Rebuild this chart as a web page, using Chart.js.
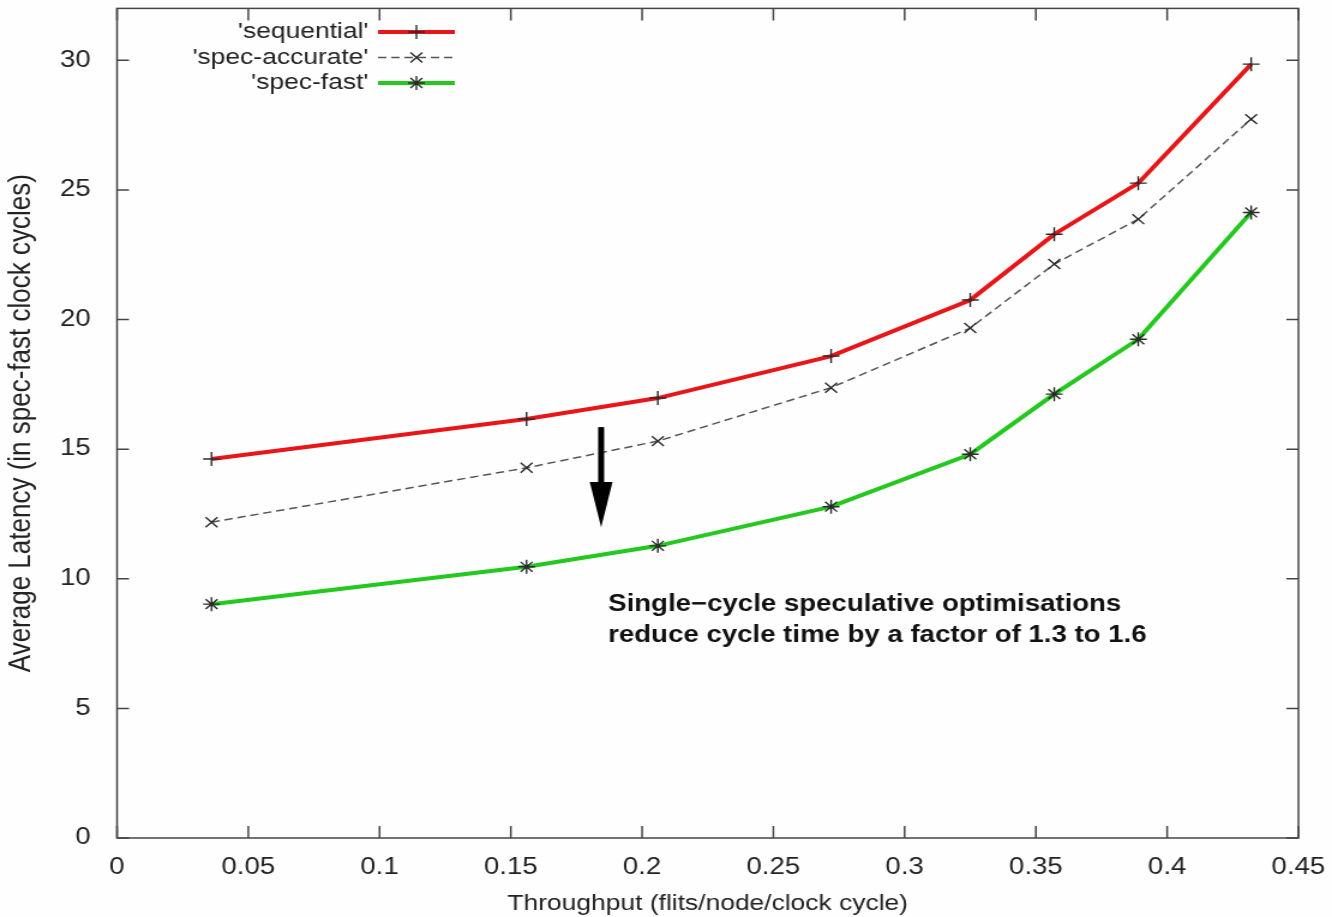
<!DOCTYPE html>
<html>
<head>
<meta charset="utf-8">
<script src="https://cdn.jsdelivr.net/npm/chart.js@4.4.0/dist/chart.umd.min.js"></script>
<style>
  html, body { margin: 0; padding: 0; background: #fdfefd; overflow: hidden; }
  /* the original plot is stretched sideways, so the canvas is drawn narrow and widened */
  #wrap { width: 1110px; height: 917px; transform: scaleX(1.2); transform-origin: 0 0; }
</style>
</head>
<body>
<div id="wrap"><canvas id="latencyChart" width="1110" height="917"></canvas></div>
<script>
// values
const throughput = [0.036, 0.156, 0.206, 0.272, 0.325, 0.357, 0.389, 0.432];
const sequential = [14.62, 16.16, 16.97, 18.59, 20.75, 23.29, 25.26, 29.85];
const specAccurate = [12.18, 14.28, 15.31, 17.37, 19.67, 22.14, 23.87, 27.73];
const specFast = [9.02, 10.46, 11.27, 12.78, 14.80, 17.12, 19.24, 24.13];

const seriesNames = ["'sequential'", "'spec-accurate'", "'spec-fast'"];
const xTicks = [0, 0.05, 0.1, 0.15, 0.2, 0.25, 0.3, 0.35, 0.4, 0.45];
const yTicks = [0, 5, 10, 15, 20, 25, 30];

const xTitle = 'Throughput (flits/node/clock cycle)';
const yTitle = 'Average Latency (in spec-fast clock cycles)';
const noteLines = ['Single\u2212cycle speculative optimisations', 'reduce cycle time by a factor of 1.3 to 1.6'];

// annotation anchors in data units
const arrowX = 0.1844, arrowTop = 15.85, arrowHead = 13.73, arrowTip = 11.99;
const noteX = 0.1871, noteY = [8.99, 7.79];

const FONT = "'Liberation Sans', Arial, Helvetica, sans-serif";
const INK = '#222';
const FRAME = '#444';

const toPoints = (ys) => throughput.map((x, i) => ({ x: x, y: ys[i] }));

// no extra room for half labels, the frame sits where the original has it
const noEdgePadding = (scale) => {
    scale.paddingTop = 0;
    scale.paddingBottom = 0;
    scale.paddingLeft = 0;
    scale.paddingRight = 0;
};

// gnuplot style frame, mirrored inward ticks, legend, arrow and note
const gnuplotDecor = {
    id: 'gnuplotDecor',
    afterDatasetsDraw(chart) {
        const ctx = chart.ctx;
        const area = chart.chartArea;
        const xs = chart.scales.x;
        const ys = chart.scales.y;
        ctx.save();

        // frame
        ctx.strokeStyle = FRAME;
        ctx.lineWidth = 1.5;
        ctx.strokeRect(area.left, area.top, area.right - area.left, area.bottom - area.top);

        // inward ticks on all four sides
        ctx.beginPath();
        xTicks.forEach(v => {
            const px = xs.getPixelForValue(v);
            ctx.moveTo(px, area.bottom); ctx.lineTo(px, area.bottom - 12);
            ctx.moveTo(px, area.top); ctx.lineTo(px, area.top + 12);
        });
        yTicks.forEach(v => {
            const py = ys.getPixelForValue(v);
            ctx.moveTo(area.left, py); ctx.lineTo(area.left + 10, py);
            ctx.moveTo(area.right, py); ctx.lineTo(area.right - 10, py);
        });
        ctx.stroke();

        // legend in the top left corner
        const rowsY = [32, 57.5, 83];
        chart.data.datasets.forEach((ds, i) => {
            const y = rowsY[i];
            ctx.fillStyle = INK;
            ctx.font = '22px ' + FONT;
            ctx.textAlign = 'right';
            ctx.textBaseline = 'middle';
            ctx.fillText(ds.label, 307, y);

            ctx.strokeStyle = ds.borderColor;
            ctx.lineWidth = ds.borderWidth;
            ctx.setLineDash(ds.borderDash || []);
            ctx.beginPath();
            ctx.moveTo(315, y);
            ctx.lineTo(379, y);
            ctx.stroke();
            ctx.setLineDash([]);

            ctx.strokeStyle = ds.pointBorderColor;
            ctx.lineWidth = ds.pointBorderWidth;
            Chart.helpers.drawPoint(ctx, {
                pointStyle: ds.pointStyle,
                radius: ds.pointRadius,
                borderWidth: ds.pointBorderWidth,
                rotation: 0
            }, 347, y);
        });

        // arrow
        const ax = xs.getPixelForValue(arrowX);
        const aTop = ys.getPixelForValue(arrowTop);
        const aHead = ys.getPixelForValue(arrowHead);
        const aTip = ys.getPixelForValue(arrowTip);
        ctx.fillStyle = '#000';
        ctx.fillRect(ax - 2.5, aTop, 5, aHead - aTop + 1);
        ctx.beginPath();
        ctx.moveTo(ax - 9.5, aHead);
        ctx.lineTo(ax + 9.5, aHead);
        ctx.lineTo(ax, aTip);
        ctx.closePath();
        ctx.fill();

        // note
        ctx.font = 'bold 23px ' + FONT;
        ctx.textAlign = 'left';
        ctx.textBaseline = 'middle';
        ctx.fillStyle = '#111';
        noteLines.forEach((line, i) => {
            ctx.fillText(line, xs.getPixelForValue(noteX), ys.getPixelForValue(noteY[i]));
        });

        // axis titles
        ctx.fillStyle = INK;
        ctx.textAlign = 'center';
        ctx.font = '22px ' + FONT;
        ctx.fillText(xTitle, (area.left + area.right) / 2, 904);
        ctx.save();
        ctx.translate(18, (area.top + area.bottom) / 2);
        ctx.rotate(-Math.PI / 2);
        ctx.font = '26px ' + FONT;
        ctx.fillText(yTitle, 0, 0);
        ctx.restore();

        ctx.restore();
    }
};

const canvasElement = document.getElementById('latencyChart');
const ctx = canvasElement.getContext('2d');

new Chart(ctx, {
    type: 'line',
    data: {
        datasets: [
            {
                label: seriesNames[0],
                data: toPoints(sequential),
                borderColor: 'rgb(232, 22, 24)',
                borderWidth: 4,
                pointStyle: 'cross',
                pointRadius: 7,
                pointBorderColor: '#2a2a2a',
                pointBorderWidth: 1.4,
                pointBackgroundColor: 'transparent',
                order: 3
            },
            {
                label: seriesNames[1],
                data: toPoints(specAccurate),
                borderColor: '#555',
                borderWidth: 1.5,
                borderDash: [7, 4],
                pointStyle: 'crossRot',
                pointRadius: 7,
                pointBorderColor: '#2a2a2a',
                pointBorderWidth: 1.4,
                pointBackgroundColor: 'transparent',
                order: 2
            },
            {
                label: seriesNames[2],
                data: toPoints(specFast),
                borderColor: 'rgb(36, 200, 30)',
                borderWidth: 4,
                pointStyle: 'star',
                pointRadius: 7,
                pointBorderColor: '#2a2a2a',
                pointBorderWidth: 1.4,
                pointBackgroundColor: 'transparent',
                order: 1
            }
        ]
    },
    options: {
        responsive: false,
        devicePixelRatio: 1,
        animation: false,
        layout: { padding: { top: 7, right: 28, left: 0, bottom: 0 } },
        plugins: {
            legend: { display: false },
            tooltip: { enabled: false }
        },
        scales: {
            x: {
                type: 'linear',
                min: 0,
                max: 0.45,
                afterBuildTicks: (scale) => { scale.ticks = xTicks.map(v => ({ value: v })); },
                afterFit: (scale) => { scale.height = 79; noEdgePadding(scale); },
                grid: { display: false },
                border: { display: false },
                ticks: {
                    autoSkip: false,
                    maxRotation: 0,
                    padding: 8,
                    color: INK,
                    font: { family: FONT, size: 23 },
                    callback: (v) => String(Number(v.toFixed(2)))
                }
            },
            y: {
                type: 'linear',
                min: 0,
                max: 32,
                afterBuildTicks: (scale) => { scale.ticks = yTicks.map(v => ({ value: v })); },
                afterFit: (scale) => { scale.width = 97.5; noEdgePadding(scale); },
                grid: { display: false },
                border: { display: false },
                ticks: {
                    padding: 14,
                    color: INK,
                    font: { family: FONT, size: 23 }
                }
            }
        }
    },
    plugins: [gnuplotDecor]
});
</script>
</body>
</html>
